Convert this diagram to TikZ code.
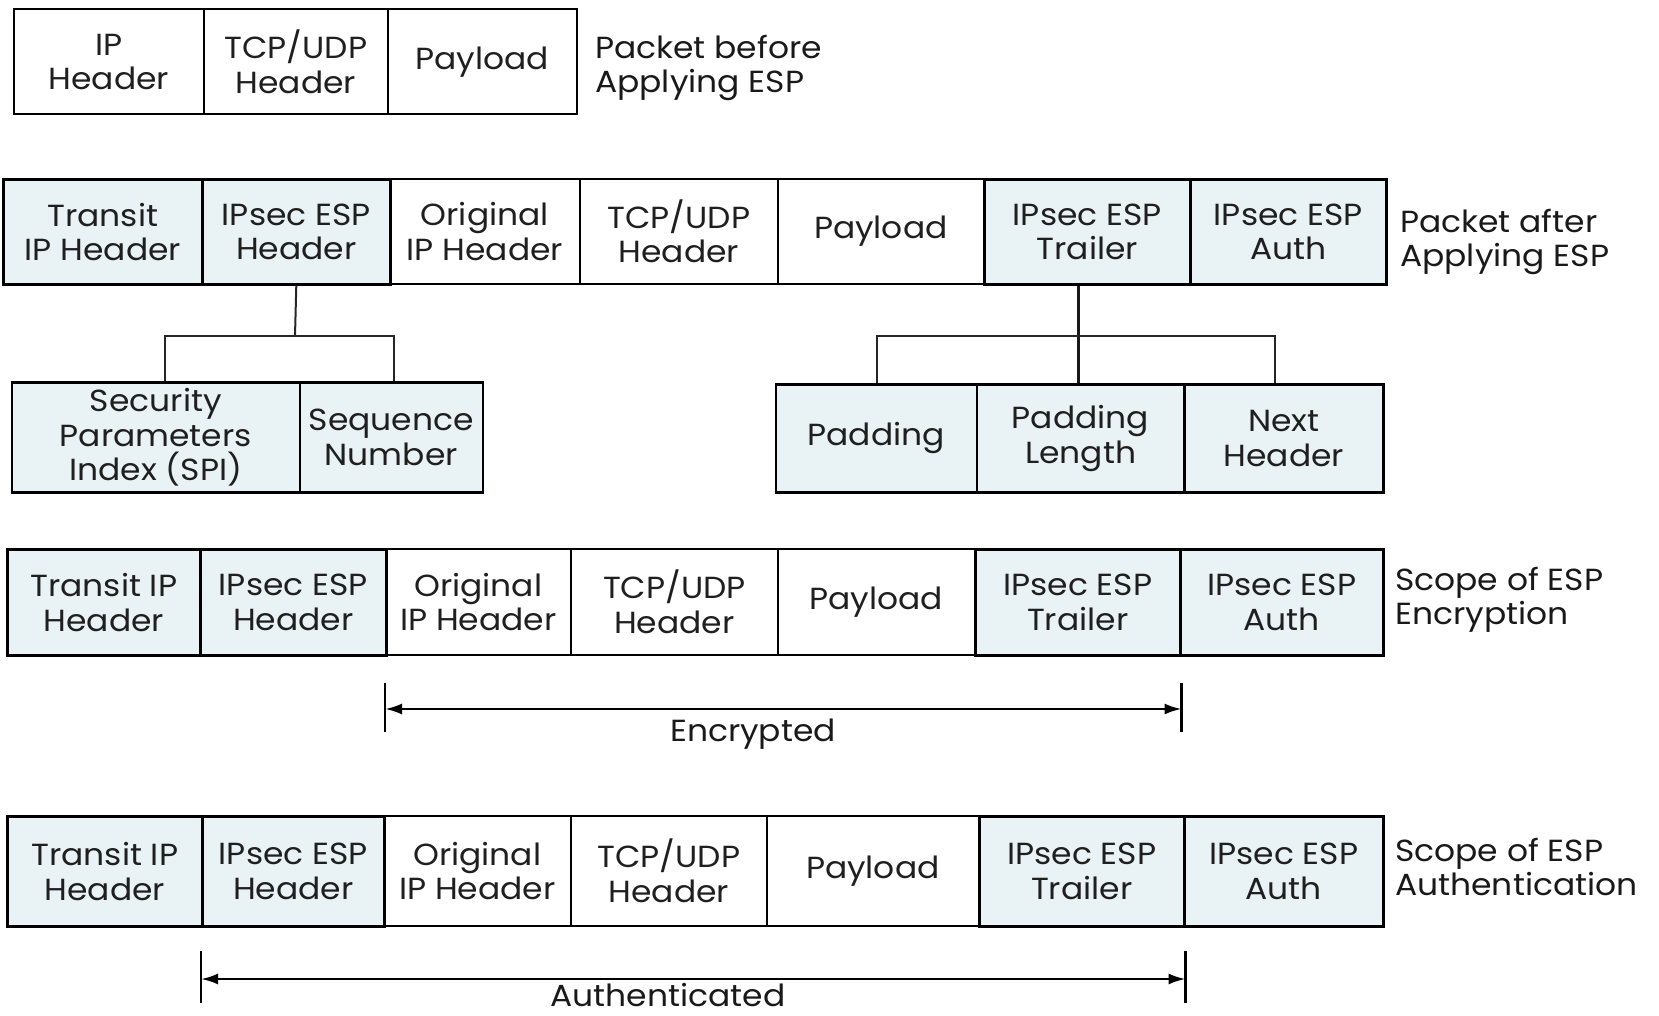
\documentclass[tikz,border=0pt]{standalone}
\usepackage{fontspec}
\setmainfont{Poppins}[FakeStretch=1.08]
\usetikzlibrary{arrows.meta}
\definecolor{espfill}{RGB}{233,242,244}
\newcommand{\cellfont}{\fontsize{30.5}{34.5}\selectfont}
\tikzset{
  cell/.style={draw=black, line width=1.6pt, minimum height=105pt, inner sep=0pt,
    align=center, anchor=north west, font=\cellfont, text=black!88},
  shadecell/.style={cell, fill=espfill, line width=2.6pt},
  rowlabel/.style={anchor=west, align=left, font=\cellfont, inner sep=0pt, text=black!90},
  tree/.style={line width=2pt, draw=black!85},
  treethick/.style={line width=3pt, draw=black!90},
  scopebar/.style={line width=2.6pt},
  scopearrow/.style={line width=2.6pt, {Latex[length=17pt,width=11pt]}-{Latex[length=17pt,width=11pt]}},
}
\begin{document}
\begin{tikzpicture}[x=1pt,y=-1pt]
\useasboundingbox (0,0) rectangle (1659,1016);

% Row 1: packet before ESP
\node[cell, minimum width=190pt] (r1a) at (13,8.5) {IP\\Header};
\node[cell, minimum width=184pt] (r1b) at (203,8.5) {TCP/UDP\\Header};
\node[cell, minimum width=189pt] (r1c) at (387,8.5) {Payload};
\node[rowlabel] (l1) at (595,68) {Packet before\\Applying ESP};

% Row 2: packet after ESP
\node[cell, minimum width=190pt] (r2c) at (389,178) {Original\\IP Header};
\node[cell, minimum width=198pt] (r2d) at (579,178) {TCP/UDP\\Header};
\node[cell, minimum width=206pt] (r2e) at (777,178) {Payload};
\node[shadecell, minimum width=199pt] (r2a) at (2,178) {Transit\\IP Header};
\node[shadecell, minimum width=188pt] (r2b) at (201,178) {IPsec ESP\\Header};
\node[shadecell, minimum width=206pt] (r2f) at (983,178) {IPsec ESP\\Trailer};
\node[shadecell, minimum width=196pt] (r2g) at (1189,178) {IPsec ESP\\Auth};
\node[rowlabel] (l2) at (1400,242) {Packet after\\Applying ESP};

% ESP header breakdown
\node[shadecell, minimum width=288pt, minimum height=110pt] (spi) at (10.5,381) {Security\\Parameters\\Index (SPI)};
\node[shadecell, minimum width=183pt, minimum height=110pt] (seq) at (298.5,381) {Sequence\\Number};
\coordinate (lj) at (295,336);
\coordinate (lja) at (165,336);
\coordinate (ljb) at (394,336);
\draw[tree] (r2b.south) -- (lj);
\draw[tree] (lja |- spi.north) -- (lja) -- (ljb) -- (ljb |- seq.north);

% ESP trailer breakdown
\node[shadecell, minimum width=201pt, minimum height=108pt] (pad) at (774.5,383) {Padding};
\node[shadecell, minimum width=207.5pt, minimum height=108pt] (padlen) at (975.5,383) {Padding\\Length};
\node[shadecell, minimum width=199pt, minimum height=108pt] (nexth) at (1183,383) {Next\\Header};
\coordinate (rj) at (1078,336);
\coordinate (rja) at (877,336);
\coordinate (rjb) at (1275,336);
\draw[treethick] (rj |- r2f.south) -- (rj |- padlen.north);
\draw[tree] (rja |- pad.north) -- (rja) -- (rjb) -- (rjb |- nexth.north);

% Row 3: scope of encryption
\node[cell, minimum width=185pt, minimum height=106pt] (r3c) at (385,548) {Original\\IP Header};
\node[cell, minimum width=207pt, minimum height=106pt] (r3d) at (570,548) {TCP/UDP\\Header};
\node[cell, minimum width=197pt, minimum height=106pt] (r3e) at (777,548) {Payload};
\node[shadecell, minimum width=193pt, minimum height=106pt] (r3a) at (6,548) {Transit IP\\Header};
\node[shadecell, minimum width=186pt, minimum height=106pt] (r3b) at (199,548) {IPsec ESP\\Header};
\node[shadecell, minimum width=205pt, minimum height=106pt] (r3f) at (974,548) {IPsec ESP\\Trailer};
\node[shadecell, minimum width=203pt, minimum height=106pt] (r3g) at (1179,548) {IPsec ESP\\Auth};
\node[rowlabel] (l3) at (1395,600) {Scope of ESP\\Encryption};

\coordinate (ea) at (r3c.south west |- 0,709);
\coordinate (eb) at (r3f.south east |- 0,709);
\draw[scopebar] ([yshift=-23pt]ea) -- ([yshift=26pt]ea);
\draw[scopebar] ([yshift=-23pt]eb) -- ([yshift=26pt]eb);
\draw[scopearrow] (ea) -- (eb);
\node[font=\cellfont, inner sep=0pt, text=black!90] (enc) at (753,734) {Encrypted};

% Row 4: scope of authentication
\node[cell, minimum width=187pt, minimum height=110pt] (r4c) at (383,815) {Original\\IP Header};
\node[cell, minimum width=196pt, minimum height=110pt] (r4d) at (570,815) {TCP/UDP\\Header};
\node[cell, minimum width=212pt, minimum height=110pt] (r4e) at (766,815) {Payload};
\node[shadecell, minimum width=195pt, minimum height=110pt] (r4a) at (6,815) {Transit IP\\Header};
\node[shadecell, minimum width=182pt, minimum height=110pt] (r4b) at (201,815) {IPsec ESP\\Header};
\node[shadecell, minimum width=205pt, minimum height=110pt] (r4f) at (978,815) {IPsec ESP\\Trailer};
\node[shadecell, minimum width=199pt, minimum height=110pt] (r4g) at (1183,815) {IPsec ESP\\Auth};
\node[rowlabel] (l4) at (1395,867) {Scope of ESP\\Authentication};

\coordinate (aa) at (r4b.south west |- 0,979);
\coordinate (ab) at (r4f.south east |- 0,979);
\draw[scopebar] ([yshift=-24pt]aa) -- ([yshift=28pt]aa);
\draw[scopebar] ([yshift=-24pt]ab) -- ([yshift=28pt]ab);
\draw[scopearrow] (aa) -- (ab);
\node[font=\cellfont, inner sep=0pt, text=black!90] (auth) at (668,995) {Authenticated};
\end{tikzpicture}
\end{document}
